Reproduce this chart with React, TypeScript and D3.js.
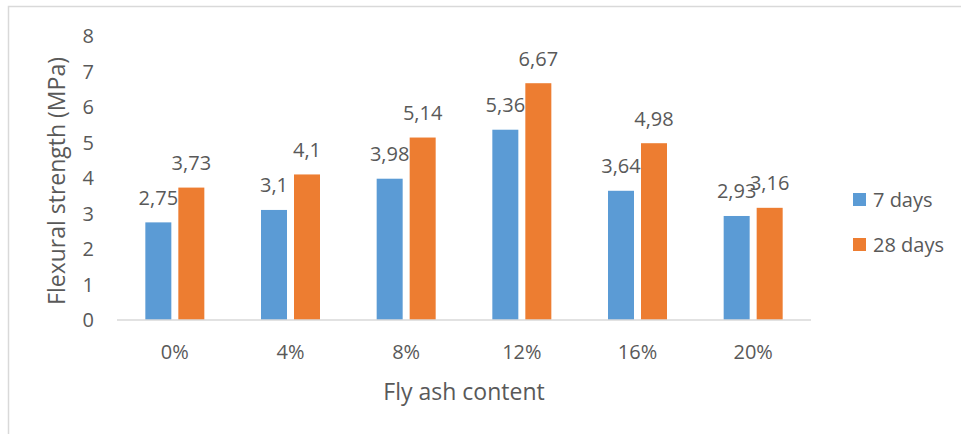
import React from "react";
import * as d3 from "d3";

// Fly ash content categories and flexural strength (MPa) per curing age
const categories = ["0%", "4%", "8%", "12%", "16%", "20%"];
const days7 = [2.75, 3.1, 3.98, 5.36, 3.64, 2.93];
const days28 = [3.73, 4.1, 5.14, 6.67, 4.98, 3.16];
const seriesNames = ["7 days", "28 days"];
const seriesColors = ["#5B9BD5", "#ED7D31"];
const yTicks = [0, 1, 2, 3, 4, 5, 6, 7, 8];

const W = 961;
const H = 434;
const plot = { left: 117, right: 811, top: 36, bottom: 320 };
const FONT = "'Open Sans', 'Noto Sans', sans-serif";
const TEXT = "#595959";
const GRID = "#d9d9d9";

const fmt = (v: number) => String(v).replace(".", ",");

export default function App() {
  const x0 = d3.scaleBand<string>().domain(categories).range([plot.left, plot.right]);
  const x1 = d3
    .scaleBand<string>()
    .domain(seriesNames)
    .range([-29.5, 29.5])
    .paddingInner(7 / 33)
    .paddingOuter(0);
  const y = d3.scaleLinear().domain([0, 8]).range([plot.bottom, plot.top]);
  const series = [days7, days28];

  return (
    <svg
      width={W}
      height={H}
      style={{ position: "fixed", left: 0, top: 0, display: "block", background: "#fff" }}
      fontFamily={FONT}
    >
      <rect x={8.5} y={6.5} width={W} height={H} fill="#fff" stroke={GRID} strokeWidth={1.5} />

      {/* value axis tick labels */}
      {yTicks.map((t) => (
        <text key={t} x={94} y={y(t)} dy="0.36em" textAnchor="end" fontSize={20} fill={TEXT}>
          {t}
        </text>
      ))}

      {/* bars */}
      {categories.map((c, i) => {
        const cx = (x0(c) as number) + x0.bandwidth() / 2;
        return (
          <g key={c}>
            {series.map((vals, s) => {
              const bx = cx + (x1(seriesNames[s]) as number);
              const top = y(vals[i]);
              return (
                <rect
                  key={s}
                  x={bx}
                  y={top}
                  width={x1.bandwidth()}
                  height={plot.bottom - top}
                  fill={seriesColors[s]}
                />
              );
            })}
          </g>
        );
      })}

      {/* category axis */}
      <line x1={plot.left} x2={plot.right} y1={plot.bottom} y2={plot.bottom} stroke={GRID} strokeWidth={1.5} />
      {categories.map((c) => (
        <text
          key={c}
          x={(x0(c) as number) + x0.bandwidth() / 2}
          y={359}
          textAnchor="middle"
          fontSize={20}
          fill={TEXT}
        >
          {c}
        </text>
      ))}

      {/* data labels */}
      {categories.map((c, i) => {
        const cx = (x0(c) as number) + x0.bandwidth() / 2;
        return series.map((vals, s) => (
          <text
            key={c + s}
            x={cx + (x1(seriesNames[s]) as number) + x1.bandwidth() / 2}
            y={y(vals[i]) - 17.5}
            textAnchor="middle"
            fontSize={20}
            fill={TEXT}
          >
            {fmt(vals[i])}
          </text>
        ));
      })}

      {/* axis titles */}
      <text x={(plot.left + plot.right) / 2} y={400} textAnchor="middle" fontSize={23} fill={TEXT}>
        Fly ash content
      </text>
      <text
        transform={`translate(65, 181) rotate(-90)`}
        textAnchor="middle"
        fontSize={23}
        fill={TEXT}
      >
        Flexural strength (MPa)
      </text>

      {/* legend */}
      {seriesNames.map((name, s) => (
        <g key={name} transform={`translate(853, ${193 + s * 45})`}>
          <rect width={13} height={13} fill={seriesColors[s]} />
          <text x={20} y={6.5} dy="0.36em" fontSize={20} fill={TEXT}>
            {name}
          </text>
        </g>
      ))}
    </svg>
  );
}
